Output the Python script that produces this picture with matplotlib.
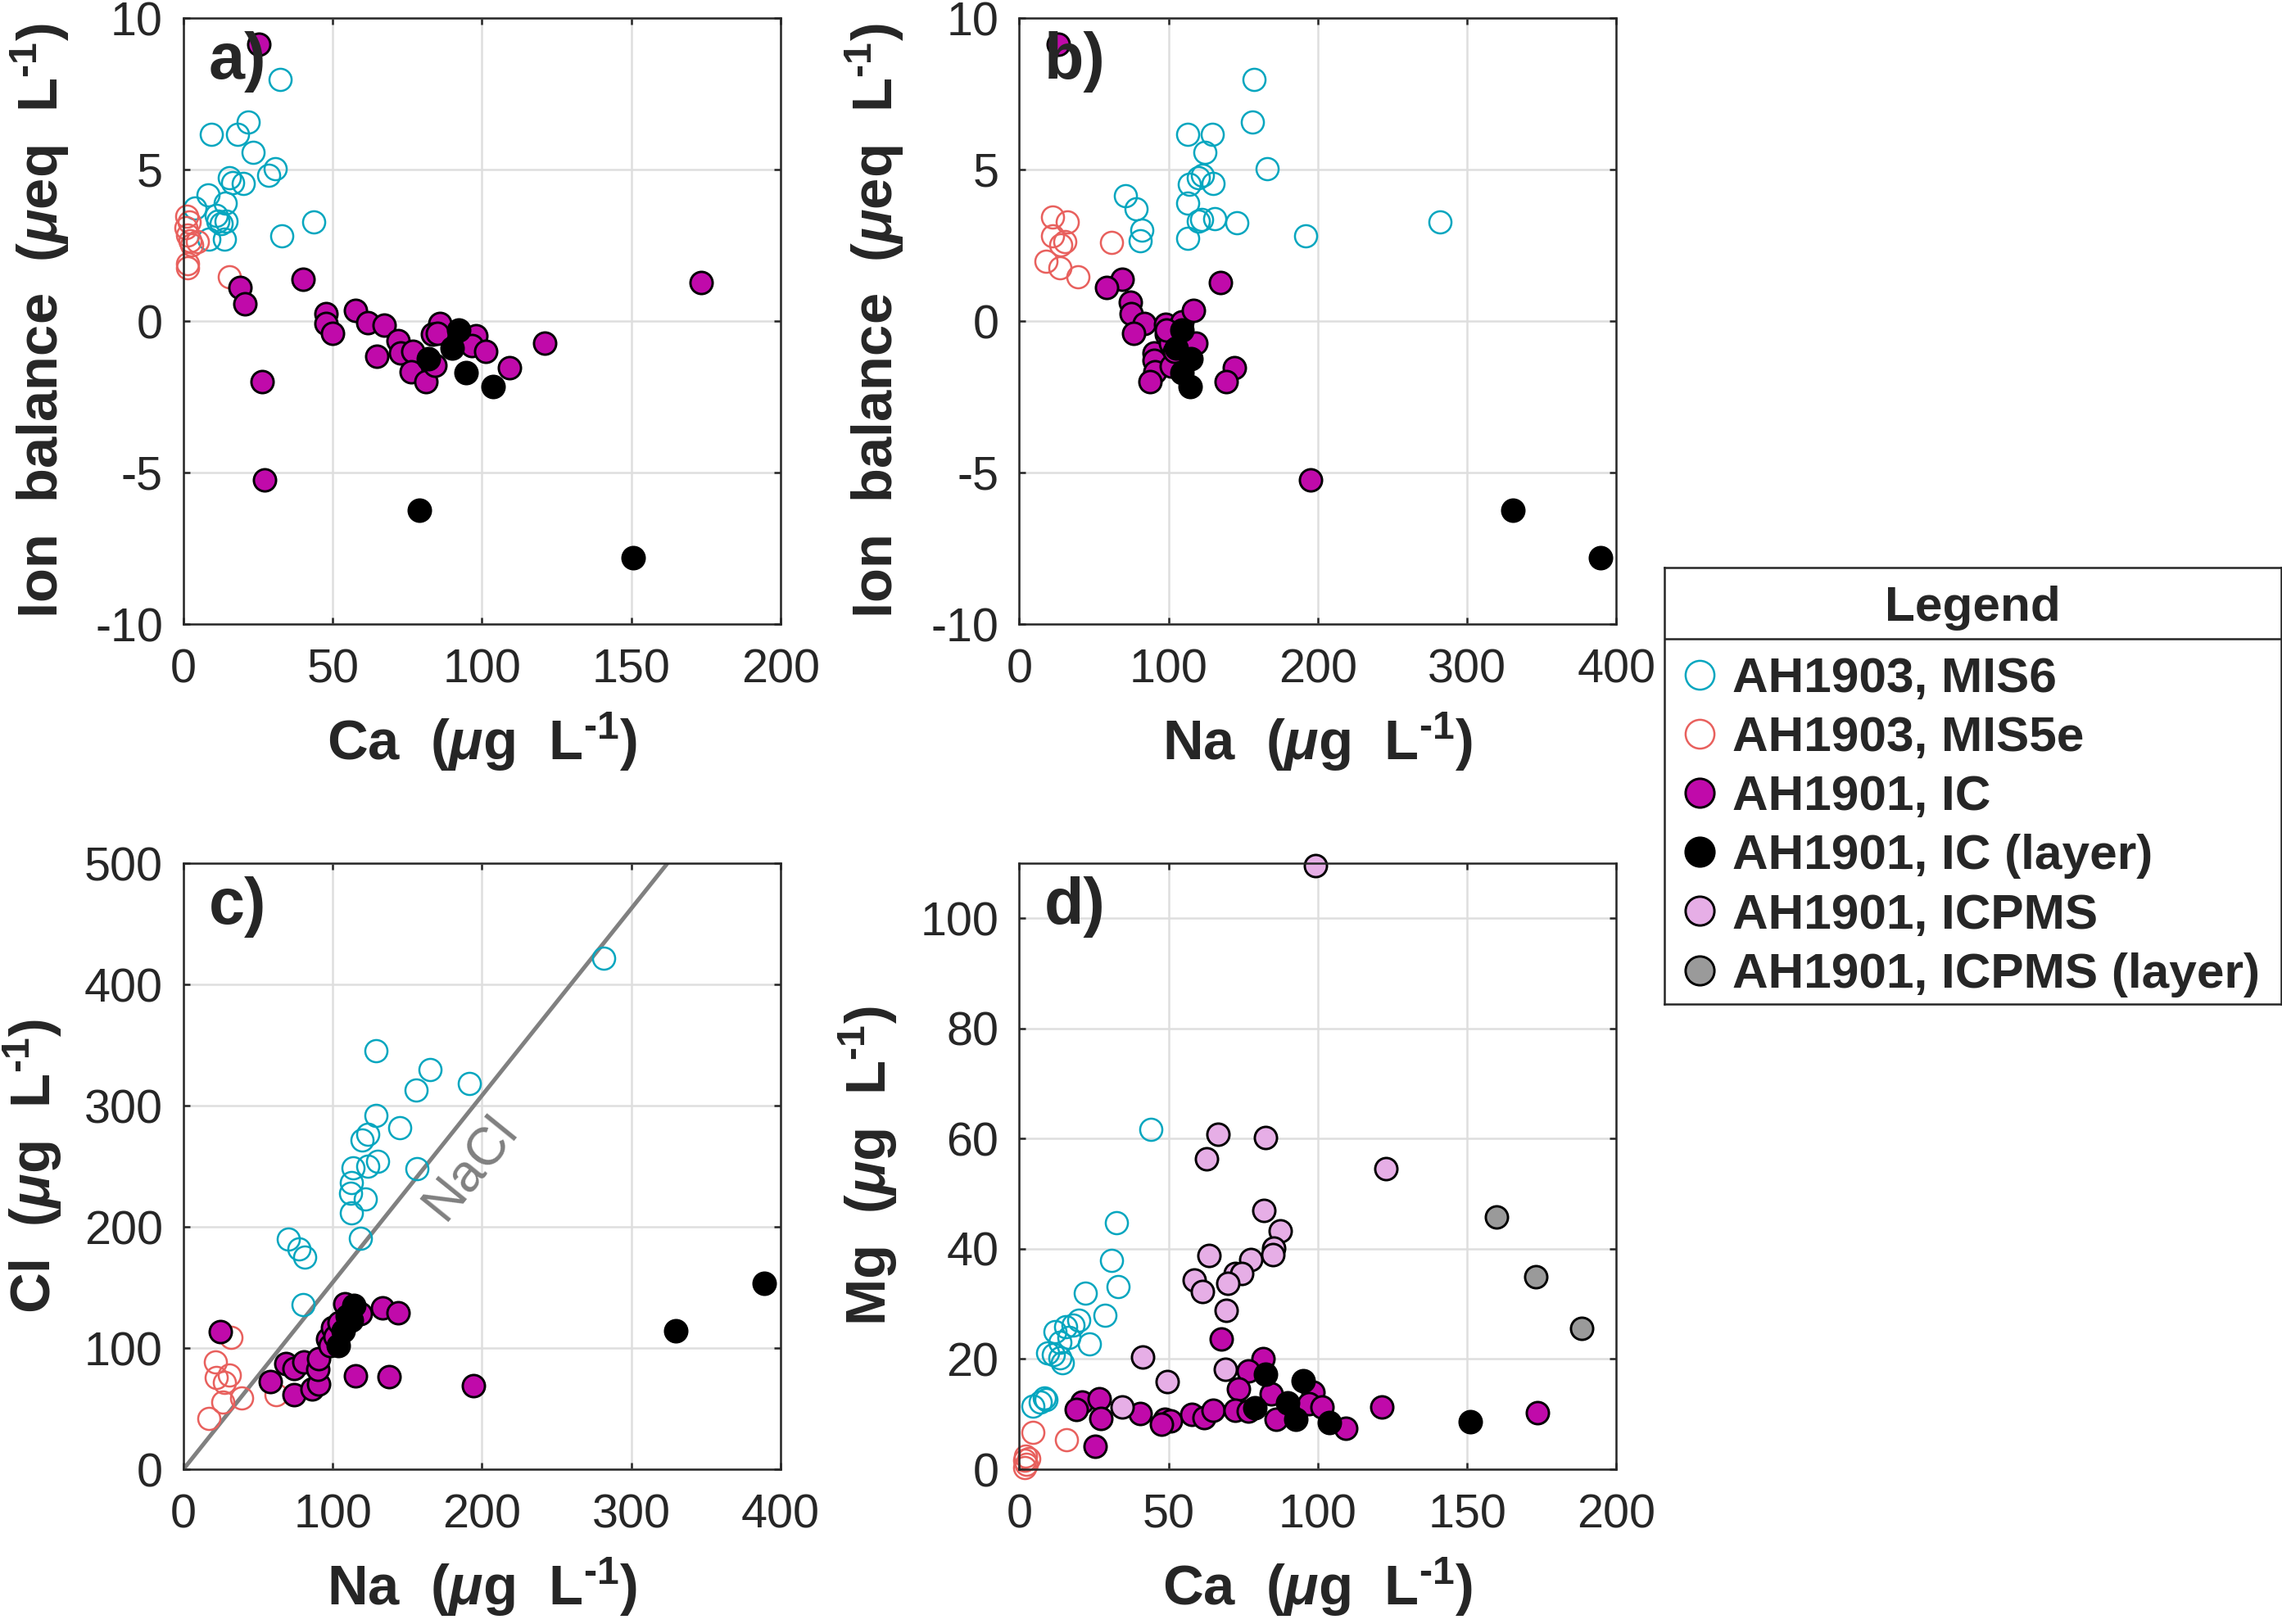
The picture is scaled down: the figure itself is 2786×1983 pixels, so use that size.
import matplotlib
matplotlib.use('Agg')
import matplotlib.pyplot as plt
from matplotlib.lines import Line2D

plt.rcParams['font.family'] = ['Liberation Sans', 'DejaVu Sans']
plt.rcParams['mathtext.fontset'] = 'custom'
plt.rcParams['mathtext.rm'] = 'Liberation Sans:bold'
plt.rcParams['mathtext.it'] = 'Liberation Sans:italic:bold'
plt.rcParams['mathtext.bf'] = 'Liberation Sans:bold'
plt.rcParams['axes.unicode_minus'] = False

# ---------------- data ----------------
# a) Ca vs ion balance
a_mis6_ca = [32.3, 21.7, 9.4, 18.2, 23.2, 30.6, 28.5, 15.5, 16.5, 19.9, 8.1, 14.1, 3.9, 10.9, 11.6, 14.4, 43.5, 12.6, 8.5, 13.7, 32.9]
a_mis6_ib = [7.97, 6.57, 6.15, 6.15, 5.56, 5.03, 4.8, 4.73, 4.57, 4.55, 4.15, 3.88, 3.72, 3.49, 3.31, 3.31, 3.28, 3.21, 2.70, 2.70, 2.8]
a_mis5e_ca = [1.1, 1.8, 1.4, 2.1, 4.6, 2.8, 1.5, 1.5, 15.4, 0.7]
a_mis5e_ib = [3.45, 3.28, 2.83, 2.66, 2.62, 2.52, 1.9, 1.77, 1.46, 3.08]
a_ic_ca = [25.2, 40.1, 19.0, 20.7, 26.4, 27.1, 173.3, 47.7, 47.7, 49.8, 57.6, 61.7, 67.3, 64.8, 71.9, 72.7, 76.9, 76.4,
           81.1, 84.1, 86.0, 83.5, 85.0, 98.0, 96.5, 101.1, 109.1, 121.1]
a_ic_ib = [9.14, 1.39, 1.12, 0.57, -2.0, -5.24, 1.26, 0.25, -0.07, -0.4, 0.36, -0.06, -0.14, -1.17, -0.65, -1.06, -1.0, -1.67,
           -2.0, -1.45, -0.07, -0.44, -0.41, -0.48, -0.8, -0.99, -1.54, -0.74]
a_icl_ca = [92.3, 89.9, 82.1, 94.7, 103.8, 79.0, 150.6]
a_icl_ib = [-0.30, -0.88, -1.23, -1.71, -2.17, -6.25, -7.82]

# b) Na vs ion balance
b_mis6_na = [157.2, 156.1, 113, 129, 124.5, 166.2, 122.8, 119.7, 113.6, 129.5, 70.8, 78, 113, 82, 80.8, 120, 122.2, 130.9, 145.5, 113, 191.9, 282]
b_mis6_ib = [7.97, 6.57, 6.15, 6.15, 5.56, 5.02, 4.8, 4.73, 4.52, 4.55, 4.14, 3.70, 3.88, 3.0, 2.66, 3.31, 3.35, 3.39, 3.24, 2.73, 2.8, 3.28]
b_mis5e_na = [22.1, 32.2, 22.1, 30.2, 27.7, 61.8, 17.6, 27.4, 39.4]
b_mis5e_ib = [3.42, 3.26, 2.80, 2.62, 2.52, 2.59, 1.97, 1.77, 1.45]
b_ic_na = [26, 68.8, 58.5, 74.4, 74.7, 83.9, 76.4, 97.9, 98.7, 109, 116.4, 134.5, 118.3, 90.1, 90.3, 90.9, 87.3, 101.8,
           144, 138.7, 195.2, 101.5, 104, 98.7]
b_ic_ib = [9.14, 1.39, 1.10, 0.62, 0.25, -0.07, -0.4, -0.12, -0.44, -0.03, 0.36, 1.26, -0.74, -1.06, -1.3, -1.67, -2.0, -1.48,
           -1.54, -2.0, -5.24, -0.72, -1.0, -0.3]
b_icl_na = [109, 105, 115, 109, 114.4, 330.6, 389.1]
b_icl_ib = [-0.3, -0.88, -1.23, -1.71, -2.17, -6.25, -7.82]

# c) Na vs Cl
c_mis6_na = [281.4, 128.7, 165.3, 155.8, 191.3, 129, 144.9, 123.6, 119.4, 130.3, 123.4, 113.8, 156.6, 112.4, 112.2, 121.7,
             112.4, 118.6, 70.5, 77.2, 81.4, 80]
c_mis6_cl = [421.5, 345.4, 329.5, 313, 318.2, 291.7, 282, 276.2, 271.7, 253.8, 249.7, 248.6, 247.9, 236.6, 228, 222.8,
             211.8, 190.8, 189.7, 181.5, 175.3, 136]
c_mis5e_na = [31.6, 21.5, 21.8, 30.5, 27.7, 26.3, 38.9, 61.8, 16.8]
c_mis5e_cl = [108.5, 88.5, 75.4, 77.5, 71.3, 55.4, 58.9, 61.6, 42]
c_ic_na = [24.9, 57.9, 68.5, 74.1, 74.1, 80.8, 86.2, 90.3, 89.8, 90.3, 96.5, 100.1, 98.2, 108.3, 118.3, 133.1, 143.5,
           115.5, 137.9, 194.4, 101.5, 104.3]
c_ic_cl = [113.3, 72.3, 87.1, 83, 61.6, 88.5, 66.1, 70.6, 82.3, 91.3, 107.4, 116.7, 102.3, 136.7, 128.1, 133.3, 128.8,
           77.1, 76.4, 69.2, 109.2, 121.2]
c_icl_na = [114.1, 112.7, 107.1, 103.5, 109.9, 330, 388.8]
c_icl_cl = [135, 122.9, 114.3, 102.3, 126.4, 114.3, 153.2]
nacl_ratio = 35.45 / 22.99  # Cl/Na mass ratio of NaCl

# d) Ca vs Mg
d_mis6_ca = [43.9, 32.4, 30.9, 33, 22, 28.7, 23.5, 20, 17.9, 15.4, 11.9, 16.5, 13.7, 9.5, 11.3, 13.7, 14.4, 8.5, 7, 4.6, 8.8]
d_mis6_mg = [61.7, 44.8, 37.9, 33.2, 31.9, 27.9, 22.8, 27, 26.2, 25.8, 24.9, 23.9, 23, 21.1, 20.8, 20.2, 19.3, 13, 12.2, 11.5, 12.6]
d_mis5e_ca = [4.6, 15.8, 2.1, 1.8, 2.2, 1.8, 3.2]
d_mis5e_mg = [6.7, 5.4, 2.4, 1.7, 0.9, 0.3, 2.0]
d_ic_ca = [67.6, 81.5, 76.6, 73.3, 84.3, 98.3, 96.9, 101.5, 21.1, 26.7, 19.2, 27.4, 25.3, 40.4, 48.7, 50.5, 47.7, 57.8,
           61.9, 65, 72.2, 76.8, 86, 109.2, 121.4, 173.6]
d_ic_mg = [23.6, 20, 17.9, 14.5, 13.7, 14, 11.9, 11.3, 12.2, 12.8, 10.9, 9.2, 4.2, 10.1, 9.0, 8.7, 8.2, 9.9,
           9.4, 10.7, 10.7, 10.5, 9.1, 7.5, 11.3, 10.3]
d_icl_ca = [82.4, 95, 79, 89.9, 92.7, 103.9, 150.9]
d_icl_mg = [17.2, 16, 11.1, 12, 9, 8.5, 8.6]
d_icpms_ca = [99.3, 66.4, 82.5, 62.8, 122.9, 81.8, 87.3, 85.3, 84.9, 63.6, 77.6, 72.4, 74.4, 69.7, 58.6, 61.4, 69.4,
              41.3, 69.1, 49.4, 34.4]
d_icpms_mg = [109.5, 60.8, 60.2, 56.3, 54.5, 47, 43.2, 40.2, 39, 38.8, 38.1, 35.6, 35.5, 33.8, 34.3, 32.2, 28.9,
              20.3, 18.2, 15.9, 11.3]
d_icpmsl_ca = [159.9, 173.1, 188.4]
d_icpmsl_mg = [45.8, 35, 25.5]

labels = ['AH1903, MIS6', 'AH1903, MIS5e', 'AH1901, IC', 'AH1901, IC (layer)', 'AH1901, ICPMS', 'AH1901, ICPMS (layer)']

# ---------------- styles ----------------
MS = 6.5
styles = {
    'mis6': dict(marker='o', mfc='none', mec='#05A6BF', mew=0.6),
    'mis5e': dict(marker='o', mfc='none', mec='#E8605D', mew=0.6),
    'ic': dict(marker='o', mfc='#C00AAA', mec='black', mew=0.7),
    'icl': dict(marker='o', mfc='black', mec='black', mew=0.7),
    'icpms': dict(marker='o', mfc='#E6AEE6', mec='black', mew=0.7),
    'icpmsl': dict(marker='o', mfc='#9A9A9A', mec='black', mew=0.7),
}
TXT = '#262626'


def pts(ax, x, y, key):
    ax.plot(x, y, ls='none', ms=MS, clip_on=False, **styles[key])


def style_axes(ax, xlim, ylim, xticks, yticks, xlabel, ylabel, tag, ylab_x):
    ax.set_xlim(xlim)
    ax.set_ylim(ylim)
    ax.set_xticks(xticks)
    ax.set_yticks(yticks)
    ax.set_axisbelow(True)
    ax.grid(True, color='#DEDEDE', lw=0.6)
    for s in ax.spines.values():
        s.set_color(TXT)
        s.set_linewidth(0.6)
    ax.tick_params(direction='in', length=2.0, width=0.6, top=True, right=True,
                   labelsize=13.8, colors=TXT)
    ax.tick_params(axis='x', pad=7.2)
    ax.tick_params(axis='y', pad=6)
    ax.set_xlabel(xlabel, fontsize=16.5, fontweight='bold', color=TXT)
    ax.set_ylabel(ylabel, fontsize=16.5, fontweight='bold', color=TXT)
    ax.xaxis.set_label_coords(0.5, -0.143)
    ax.yaxis.set_label_coords(ylab_x, 0.5)
    ax.text(0.042, 0.928, tag, transform=ax.transAxes, fontsize=19, fontweight='bold',
            color=TXT, ha='left', va='center')


fig = plt.figure(figsize=(9.29, 6.61), dpi=300)
W, H = 2787, 1983
axw, axh = 729 / W, 740 / H
ax_a = fig.add_axes([224 / W, (H - 762) / H, axw, axh])
ax_b = fig.add_axes([1244.5 / W, (H - 762) / H, axw, axh])
ax_c = fig.add_axes([224 / W, (H - 1794) / H, axw, axh])
ax_d = fig.add_axes([1244.5 / W, (H - 1794) / H, axw, axh])

sup = r'L$^{\mathrm{‐1}}$'
ca_lab = r'Ca  ($\mathit{μ}$g  ' + sup + ')'
na_lab = r'Na  ($\mathit{μ}$g  ' + sup + ')'
ib_lab = r'Ion  balance  ($\mathit{μ}$eq  ' + sup + ')'

# a
pts(ax_a, a_mis6_ca, a_mis6_ib, 'mis6')
pts(ax_a, a_mis5e_ca, a_mis5e_ib, 'mis5e')
pts(ax_a, a_ic_ca, a_ic_ib, 'ic')
pts(ax_a, a_icl_ca, a_icl_ib, 'icl')
style_axes(ax_a, (0, 200), (-10, 10), range(0, 201, 50), range(-10, 11, 5), ca_lab, ib_lab, 'a)', -0.188)

# b
pts(ax_b, b_mis6_na, b_mis6_ib, 'mis6')
pts(ax_b, b_mis5e_na, b_mis5e_ib, 'mis5e')
pts(ax_b, b_ic_na, b_ic_ib, 'ic')
pts(ax_b, b_icl_na, b_icl_ib, 'icl')
style_axes(ax_b, (0, 400), (-10, 10), range(0, 401, 100), range(-10, 11, 5), na_lab, ib_lab, 'b)', -0.19)

# c
ax_c.plot([0, 400], [0, 400 * nacl_ratio], color='#808080', lw=1.2, zorder=1.5)
ax_c.text(192, 249, 'NaCl', color='#808080', fontsize=15.5, rotation=51,
          rotation_mode='anchor', ha='center', va='center')
pts(ax_c, c_mis6_na, c_mis6_cl, 'mis6')
pts(ax_c, c_mis5e_na, c_mis5e_cl, 'mis5e')
pts(ax_c, c_ic_na, c_ic_cl, 'ic')
pts(ax_c, c_icl_na, c_icl_cl, 'icl')
style_axes(ax_c, (0, 400), (0, 500), range(0, 401, 100), range(0, 501, 100), na_lab,
           r'Cl  ($\mathit{μ}$g  ' + sup + ')', 'c)', -0.2)

# d
pts(ax_d, d_mis6_ca, d_mis6_mg, 'mis6')
pts(ax_d, d_mis5e_ca, d_mis5e_mg, 'mis5e')
pts(ax_d, d_ic_ca, d_ic_mg, 'ic')
pts(ax_d, d_icl_ca, d_icl_mg, 'icl')
pts(ax_d, d_icpms_ca, d_icpms_mg, 'icpms')
pts(ax_d, d_icpmsl_ca, d_icpmsl_mg, 'icpmsl')
style_axes(ax_d, (0, 200), (0, 110), range(0, 201, 50), range(0, 101, 20), ca_lab,
           r'Mg  ($\mathit{μ}$g  ' + sup + ')', 'd)', -0.201)

# legend box
lax = fig.add_axes([2032 / W, (H - 1226) / H, 753 / W, 533 / H])
lax.set_xticks([])
lax.set_yticks([])
for s in lax.spines.values():
    s.set_color(TXT)
    s.set_linewidth(0.6)
lax.axhline(0.837, color=TXT, lw=0.6)
lax.text(0.5, 0.908, 'Legend', transform=lax.transAxes, ha='center', va='center',
         fontsize=14.5, fontweight='bold', color=TXT)
handles = [Line2D([], [], ls='none', ms=MS, **styles[k]) for k in ['mis6', 'mis5e', 'ic', 'icl', 'icpms', 'icpmsl']]
leg = lax.legend(handles, labels, loc='upper left', bbox_to_anchor=(0.025, 0.796), frameon=False,
                 prop={'weight': 'bold', 'size': 14.5}, markerscale=1.3, handlelength=0.8,
                 handletextpad=0.27, labelspacing=0.285, borderaxespad=0, borderpad=0)
for t in leg.get_texts():
    t.set_color(TXT)

fig.savefig('out.png', dpi=300)
